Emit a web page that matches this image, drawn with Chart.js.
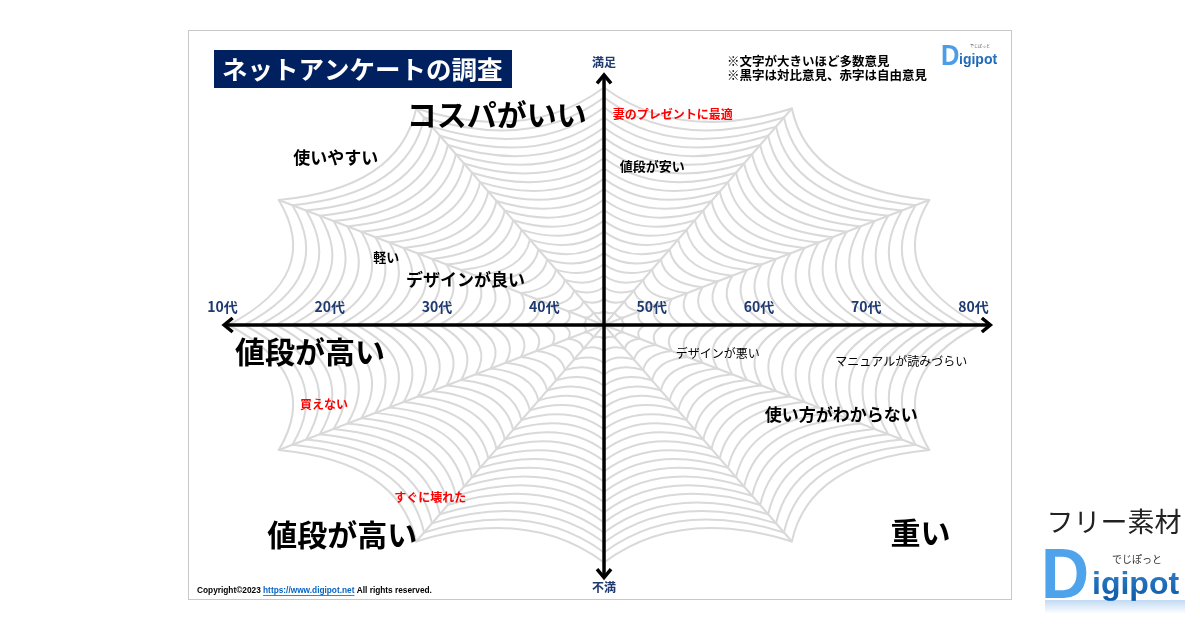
<!DOCTYPE html>
<html><head><meta charset="utf-8">
<script src="https://cdn.jsdelivr.net/npm/chart.js@4.4.1/dist/chart.umd.min.js"></script>
<style>html,body{margin:0;padding:0;background:#fff;overflow:hidden}#wrap{width:1200px;height:630px;position:relative}</style>
</head><body><div id="wrap"><canvas id="c" width="1200" height="630"></canvas></div>
<script>
// ---- data ----
const ageLabels = ['10代','20代','30代','40代','50代','60代','70代','80代'];
const ageValues = [10,20,30,40,50,60,70,80];
const axisTop = '満足';
const axisBottom = '不満';
const opinionTexts = ['コスパがいい','妻のプレゼントに最適','使いやすい','値段が安い','軽い','デザインが良い','値段が高い','デザインが悪い','マニュアルが読みづらい','買えない','使い方がわからない','すぐに壊れた','値段が高い','重い'];
const opinionAge = [35.0, 51.4, 20.0, 49.5, 24.7, 32.1, 17.6, 55.6, 72.7, 18.9, 67.1, 28.8, 20.6, 74.5];
const opinionSatisfaction = [84, 84.4, 66.8, 63.6, 27.2, 18, -10.8, -11.2, -14.4, -31.6, -36, -68.8, -84, -83.2];
const opinionVolume = [4, 1, 3, 2, 2, 3, 4, 1, 1, 1, 3, 1, 4, 4];
const opinionKind = ['contrast','free','contrast','contrast','contrast','contrast','contrast','contrast','contrast','free','contrast','free','contrast','contrast'];
const titleText = 'ネットアンケートの調査';
const noteLines = ['※文字が大きいほど多数意見','※黒字は対比意見、赤字は自由意見'];

// ---- style helpers ----
const JP = '"Noto Sans CJK JP"';
const sizeFor = {1:12, 2:13, 3:17, 4:30};
const NAVY = '#002060';

function arrowHead(ctx, tx, ty, ang, len){
  ctx.beginPath();
  ctx.moveTo(tx + Math.cos(ang+2.45)*len, ty + Math.sin(ang+2.45)*len);
  ctx.lineTo(tx, ty);
  ctx.lineTo(tx + Math.cos(ang-2.45)*len, ty + Math.sin(ang-2.45)*len);
  ctx.stroke();
}

const decor = {
  id:'decor',
  beforeDraw(chart){
    const ctx = chart.ctx, a = chart.chartArea;
    ctx.save();
    ctx.fillStyle='#fff'; ctx.fillRect(0,0,chart.width,chart.height);
    ctx.strokeStyle='#c9c9c9'; ctx.lineWidth=1;
    ctx.strokeRect(a.left+0.5, a.top+0.5, a.right-a.left-1, a.bottom-a.top-1);
    ctx.restore();
  },
  beforeDatasetsDraw(chart){
    const ctx = chart.ctx, xs = chart.scales.x, ys = chart.scales.y;
    const cx = xs.getPixelForValue(45), cy = ys.getPixelForValue(0);
    const rx = xs.getPixelForValue(45+35) - cx, ry = cy - ys.getPixelForValue(100);
    const N = 22, S = 12;
    const pt = (i,f)=>{ const k=((i%S)+S)%S; const a=k*Math.PI*2/S; const s=(k===3||k===9)?0.95:1; return [cx+Math.cos(a)*rx*f*s, cy-Math.sin(a)*ry*f*s]; };
    ctx.save();
    ctx.strokeStyle='#d9d9d9'; ctx.lineWidth=2; ctx.lineCap='round';
    for(let i=0;i<S;i++){ const p=pt(i,1); ctx.beginPath(); ctx.moveTo(cx,cy); ctx.lineTo(p[0],p[1]); ctx.stroke(); }
    for(let k=1;k<=N;k++){
      const f=Math.pow(k/N,0.92);
      for(let i=0;i<S;i++){
        const A=pt(i,f), B=pt(i+1,f);
        const mx=(A[0]+B[0])/2, my=(A[1]+B[1])/2;
        const c=0.8;
        ctx.beginPath(); ctx.moveTo(A[0],A[1]);
        ctx.quadraticCurveTo(cx+(mx-cx)*c, cy+(my-cy)*c, B[0],B[1]);
        ctx.stroke();
      }
    }
    // axes arrows
    ctx.strokeStyle='#000'; ctx.lineWidth=3.5; ctx.lineCap='butt'; ctx.lineJoin='miter';
    const xl=xs.getPixelForValue(9.6), xr=xs.getPixelForValue(81);
    const yt=ys.getPixelForValue(100), yb=ys.getPixelForValue(-101);
    ctx.beginPath(); ctx.moveTo(xl+2,cy); ctx.lineTo(xr-2,cy); ctx.stroke();
    ctx.beginPath(); ctx.moveTo(cx,yt+2); ctx.lineTo(cx,yb-2); ctx.stroke();
    arrowHead(ctx,xl,cy,Math.PI,11); arrowHead(ctx,xr,cy,0,11);
    arrowHead(ctx,cx,yt,-Math.PI/2,11); arrowHead(ctx,cx,yb,Math.PI/2,11);
    // age tick labels
    ctx.fillStyle='#1f3a70'; ctx.font='bold 14px '+JP; ctx.textAlign='center'; ctx.textBaseline='middle';
    ageLabels.forEach((t,i)=>{ ctx.fillText(t, xs.getPixelForValue(ageValues[i])-6, cy-18); });
    ctx.font='bold 12px '+JP;
    ctx.fillText(axisTop, cx, ys.getPixelForValue(105.2));
    ctx.fillText(axisBottom, cx, ys.getPixelForValue(-104.8));
    ctx.restore();
  },
  afterDatasetsDraw(chart){
    const ctx = chart.ctx;
    const meta = chart.getDatasetMeta(0);
    ctx.save();
    ctx.textAlign='center'; ctx.textBaseline='middle';
    meta.data.forEach((el,i)=>{
      const v=opinionVolume[i], free=opinionKind[i]==='free';
      const w = (v===1 && !free) ? 'normal' : 'bold';
      ctx.font = w+' '+sizeFor[v]+'px '+JP;
      ctx.fillStyle = free ? '#ff0000' : '#000';
      ctx.fillText(opinionTexts[i], el.x, el.y);
    });
    // title
    ctx.fillStyle=NAVY; ctx.fillRect(214,50,298,38);
    ctx.fillStyle='#fff'; ctx.font='bold 25.5px '+JP; ctx.textAlign='left';
    ctx.fillText(titleText, 222, 69);
    // notes
    ctx.fillStyle='#000'; ctx.font='bold 12.5px '+JP;
    ctx.fillText(noteLines[0], 727, 61);
    ctx.fillText(noteLines[1], 727, 75.5);
    // small logo
    const g1=ctx.createLinearGradient(0,40,0,68); g1.addColorStop(0,'#4a9de6'); g1.addColorStop(1,'#0f58a8');
    ctx.fillStyle=g1; ctx.textBaseline='alphabetic';
    ctx.save(); ctx.translate(941,65); ctx.scale(0.85,1); ctx.font='bold 30px "Liberation Sans"'; ctx.fillText('D',0,0); ctx.restore();
    ctx.font='bold 14px "Liberation Sans"'; ctx.fillText('igipot', 959, 64);
    ctx.font='4px '+JP; ctx.fillStyle='#555'; ctx.fillText('でじぽっと', 970, 48);
    // copyright
    ctx.font='bold 8.3px "Liberation Sans"'; ctx.fillStyle='#000'; ctx.textBaseline='middle';
    let x=197; const yC=591;
    const p1='Copyright©2023 ', p2='https://www.digipot.net', p3=' All rights reserved.';
    ctx.fillText(p1,x,yC); x+=ctx.measureText(p1).width;
    ctx.fillStyle='#0563c1'; ctx.fillText(p2,x,yC); const w2=ctx.measureText(p2).width;
    ctx.fillRect(x,yC+4,w2,0.8); x+=w2;
    ctx.fillStyle='#000'; ctx.fillText(p3,x,yC);
    // outside free-material badge
    ctx.fillStyle='#222'; ctx.font='27px '+JP; ctx.textAlign='center';
    ctx.fillText('フリー素材', 1114, 522);
    const g2=ctx.createLinearGradient(0,540,0,600); g2.addColorStop(0,'#4fa3ea'); g2.addColorStop(1,'#0f5aa8');
    ctx.fillStyle=g2; ctx.textAlign='left'; ctx.textBaseline='alphabetic';
    ctx.save(); ctx.translate(1041,598); ctx.scale(0.9,0.95); ctx.font='bold 74px "Liberation Sans"'; ctx.fillText('D',0,0); ctx.restore();
    ctx.font='bold 32px "Liberation Sans"'; ctx.fillText('igipot', 1092, 594);
    ctx.fillStyle='#333'; ctx.font='10px '+JP; ctx.textAlign='center'; ctx.fillText('でじぽっと', 1137, 563);
    const g3=ctx.createLinearGradient(0,600,0,614); g3.addColorStop(0,'rgba(80,150,220,0.35)'); g3.addColorStop(1,'rgba(80,150,220,0)');
    ctx.fillStyle=g3; ctx.fillRect(1045,600,140,14);
    ctx.restore();
  }
};

new Chart(document.getElementById('c'), {
  type:'scatter',
  data:{ datasets:[{ label:'opinions', data: opinionTexts.map((t,i)=>({x:opinionAge[i], y:opinionSatisfaction[i]})), pointRadius:0, pointHoverRadius:0 }] },
  options:{
    responsive:false, animation:false, devicePixelRatio:1,
    layout:{ padding:{ left:188, right:188, top:30, bottom:30 } },
    plugins:{ legend:{display:false}, tooltip:{enabled:false}, title:{display:false} },
    scales:{
      x:{ type:'linear', min:6.23, max:83.02, display:false },
      y:{ type:'linear', min:-110, max:118, display:false }
    }
  },
  plugins:[decor]
});
</script></body></html>
